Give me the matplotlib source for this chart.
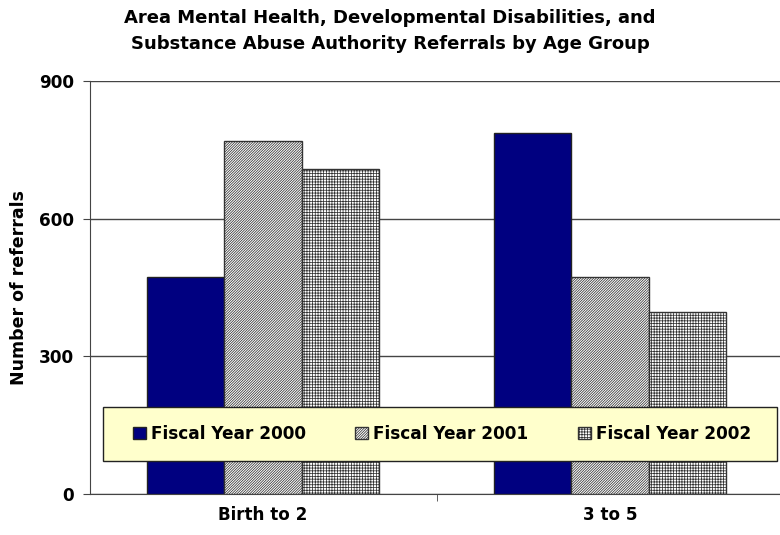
import matplotlib
matplotlib.use("Agg")
import matplotlib.pyplot as plt
from matplotlib.patches import Rectangle
import numpy as np

plt.rcParams['hatch.linewidth'] = 0.55

categories = ["Birth to 2", "3 to 5"]
series_names = ["Fiscal Year 2000", "Fiscal Year 2001", "Fiscal Year 2002"]
fy2000 = [473, 787]
fy2001 = [769, 473]
fy2002 = [708, 397]
y_ticks = [0, 300, 600, 900]

title = ("Area Mental Health, Developmental Disabilities, and\n"
         "Substance Abuse Authority Referrals by Age Group")

W, H = 780, 535
fig = plt.figure(figsize=(W / 100, H / 100), dpi=100)
ax = fig.add_axes([89.5 / W, 1 - 494 / H, (W - 89.5) / W, (494 - 81) / H])

x = np.arange(len(categories))
width = 0.223
styles = [
    dict(color="#000080", edgecolor="#222222", hatch=None),
    dict(color="white", edgecolor="#333333", hatch="/" * 13),
    dict(color="white", edgecolor="#333333", hatch="+" * 6),
]
handles = []
for i, (vals, st) in enumerate(zip([fy2000, fy2001, fy2002], styles)):
    offs = (i - 1) * width
    bars = ax.bar(x + offs, vals, width, facecolor=st["color"],
                  edgecolor=st["edgecolor"], hatch=st["hatch"],
                  linewidth=1.0, zorder=3, label=series_names[i])
    handles.append(bars)

ax.set_ylim(0, 900)
ax.set_xlim(-0.5, 1.5 - 3.5 / 347)
ax.set_yticks(y_ticks)
ax.set_yticklabels([str(v) for v in y_ticks], fontweight="bold", fontsize=12.2)
ax.set_xticks(x)
ax.set_xticklabels(categories, fontweight="bold", fontsize=12.1)
ax.set_xticks([0.5], minor=True)
ax.tick_params(axis="x", which="major", length=0, pad=9)
ax.tick_params(axis="x", which="minor", length=5, color="#444444")
ax.tick_params(axis="y", length=5, color="#444444", pad=6)

ax.yaxis.grid(True, color="#444444", linewidth=1.0, zorder=0)
ax.set_axisbelow(True)
for s in ["top", "right"]:
    ax.spines[s].set_visible(False)
for s in ["left", "bottom"]:
    ax.spines[s].set_color("#444444")

ax.set_ylabel("Number of referrals", fontweight="bold", fontsize=12.5, labelpad=8)

fig.text(0.5, 1 - 31 / H, title, ha="center", va="center",
         fontweight="bold", fontsize=13, linespacing=1.55)

# legend box drawn as a separate frame, entries placed inside it
box = Rectangle((103 / W, 1 - 461 / H), (777 - 103) / W, (461 - 407) / H,
                transform=fig.transFigure, facecolor="#FFFFCC",
                edgecolor="#222222", linewidth=1.0, zorder=5)
fig.patches.append(box)

leg = fig.legend(handles=handles, labels=series_names,
                 loc="center", bbox_to_anchor=(442 / W, 1 - 434 / H),
                 ncol=3, frameon=False,
                 prop=dict(weight="bold", size=12.2),
                 handlelength=0.77, handleheight=0.77, handletextpad=0.3,
                 columnspacing=2.9, borderpad=0.2)
leg.set_zorder(6)

fig.savefig("out.png", dpi=100)
